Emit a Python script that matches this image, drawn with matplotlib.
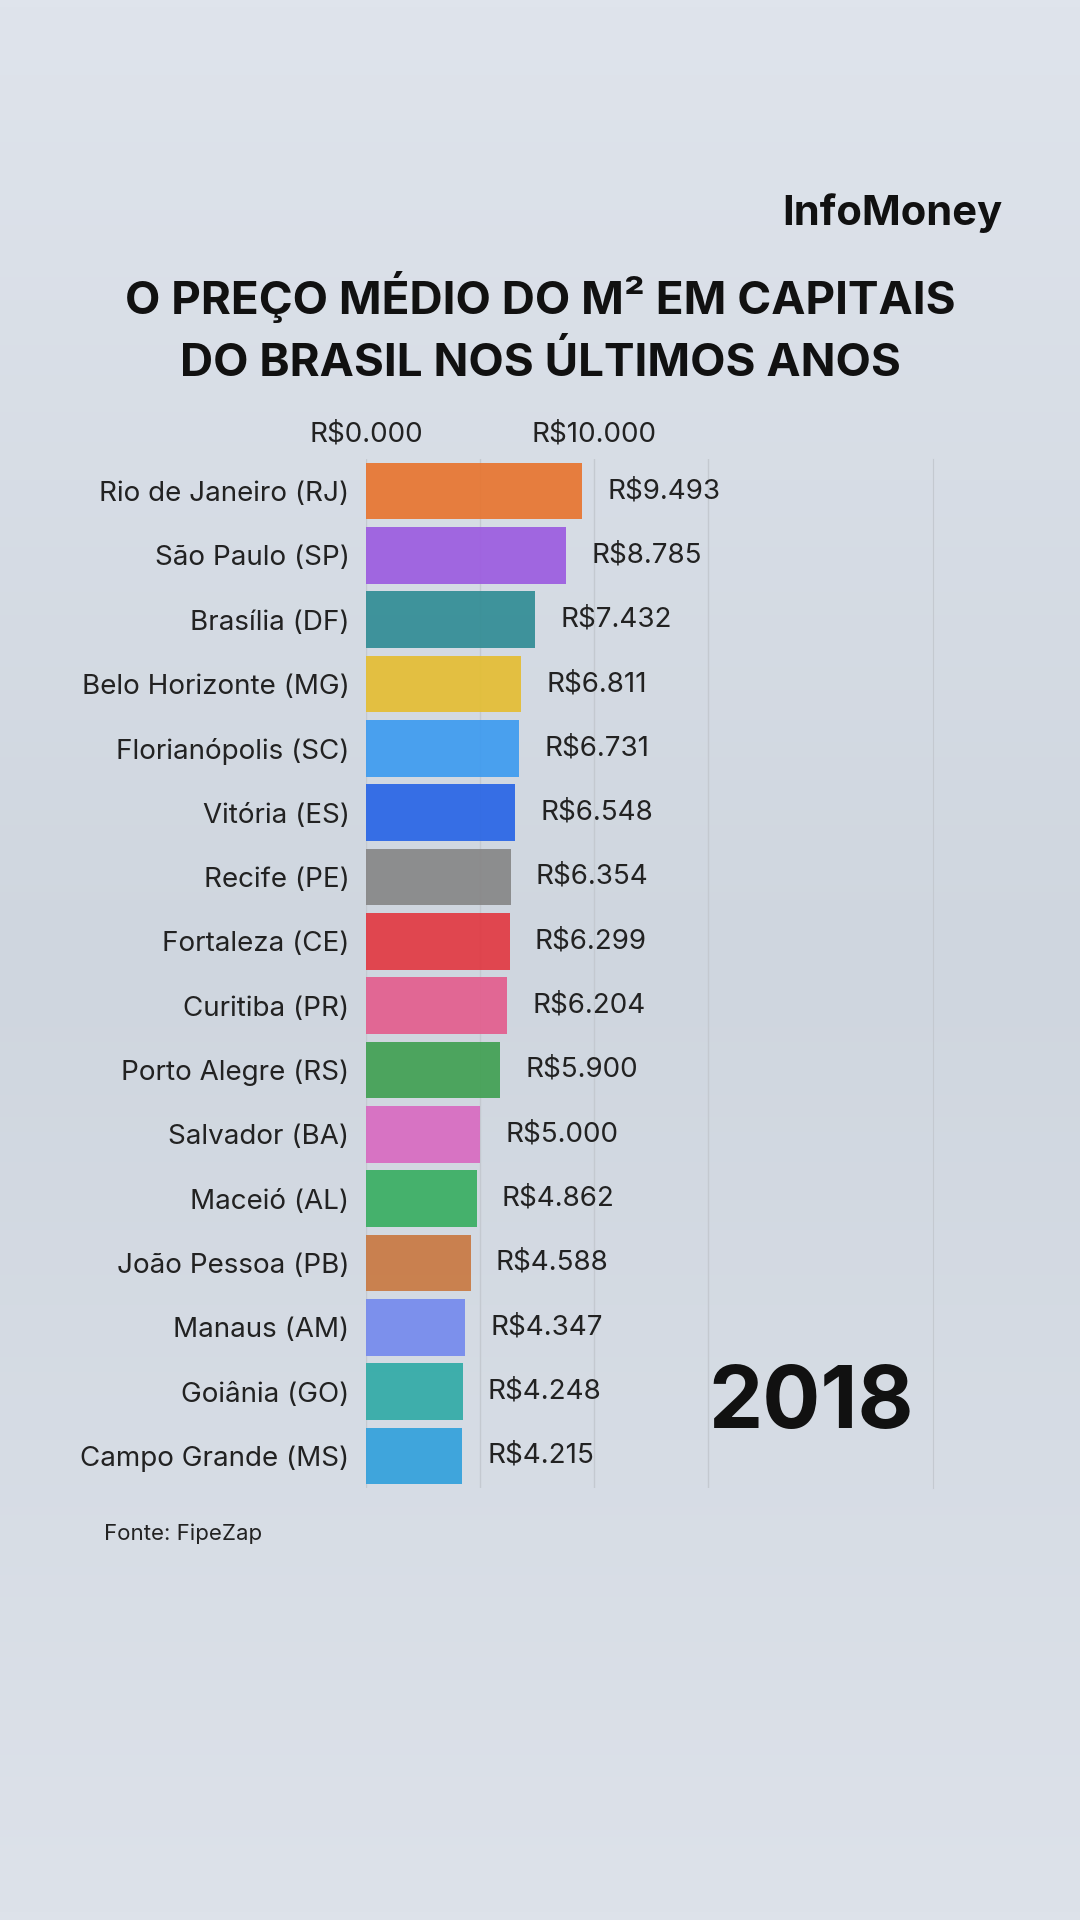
import matplotlib
matplotlib.use("Agg")
import matplotlib.pyplot as plt
import numpy as np

cities = ["Rio de Janeiro (RJ)", "São Paulo (SP)", "Brasília (DF)", "Belo Horizonte (MG)",
          "Florianópolis (SC)", "Vitória (ES)", "Recife (PE)", "Fortaleza (CE)", "Curitiba (PR)",
          "Porto Alegre (RS)", "Salvador (BA)", "Maceió (AL)", "João Pessoa (PB)", "Manaus (AM)",
          "Goiânia (GO)", "Campo Grande (MS)"]
values = [9493, 8785, 7432, 6811, 6731, 6548, 6354, 6299, 6204, 5900, 5000, 4862, 4588, 4347, 4248, 4215]
labels = ["R$9.493", "R$8.785", "R$7.432", "R$6.811", "R$6.731", "R$6.548", "R$6.354", "R$6.299",
          "R$6.204", "R$5.900", "R$5.000", "R$4.862", "R$4.588", "R$4.347", "R$4.248", "R$4.215"]
colors = ["#e8732c", "#9b59e0", "#2e8b93", "#e5bd2f", "#3a9af0", "#2563e6", "#858585", "#e2363f",
          "#e45b8c", "#3e9f50", "#d868c0", "#36ad5f", "#c8773f", "#7388ee", "#2daaa5", "#2f9fdc"]
ticks = [0, 10000]
tick_labels = ["R$0.000", "R$10.000"]
year = "2018"

fig = plt.figure(figsize=(10.8, 19.2), dpi=100)
bg = fig.add_axes([0, 0, 1, 1])
grad = np.linspace(0, 1, 256).reshape(-1, 1)
bg.imshow(grad, cmap=matplotlib.colors.LinearSegmentedColormap.from_list("g", ["#dfe4ec", "#cfd6df", "#dde2ea"]),
          aspect="auto", extent=[0, 1, 0, 1])
bg.axis("off")

ax = fig.add_axes([0.339, 0.225, 0.525, 0.536])
ax.set_facecolor("none")
y = np.arange(len(cities))
ax.barh(y, values, color=colors, height=0.88, alpha=0.9)
ax.set_ylim(len(cities) - 0.5, -0.5)
ax.set_xlim(0, 24900)
for g in [0, 5000, 10000, 15000]:
    ax.axvline(g, color="#c4c9d0", lw=1, zorder=0)
for s in ["top", "left", "bottom"]:
    ax.spines[s].set_visible(False)
ax.spines["right"].set_color("#c4c9d0")
ax.xaxis.tick_top()
ax.set_xticks(ticks)
ax.set_xticklabels(tick_labels, fontsize=20, color="#222222", family="Inter")
ax.tick_params(axis="x", length=0, pad=8)
ax.set_yticks(y)
ax.set_yticklabels(cities, fontsize=20, color="#222222", family="Inter")
ax.tick_params(axis="y", length=0, pad=12)
for yi, v, l in zip(y, values, labels):
    ax.text(v + 1100, yi, l, va="center", ha="left", fontsize=20, color="#222222", family="Inter")
ax.text(0.603, 0.08, year, transform=ax.transAxes, fontsize=62, fontweight="bold",
        color="#111111", family="Inter", ha="left", va="center")

fig.text(0.928, 0.889, "InfoMoney", fontsize=30, fontweight="bold", ha="right", va="center",
         color="#111111", family="Inter")
fig.text(0.5, 0.829, "O PREÇO MÉDIO DO M² EM CAPITAIS\nDO BRASIL NOS ÚLTIMOS ANOS", fontsize=33,
         fontweight="bold", ha="center", va="center", color="#111111", family="Inter", linespacing=1.55)
fig.text(0.096, 0.201, "Fonte: FipeZap", fontsize=16, color="#222222", family="Inter", va="center")

fig.savefig("out.png", dpi=100)
